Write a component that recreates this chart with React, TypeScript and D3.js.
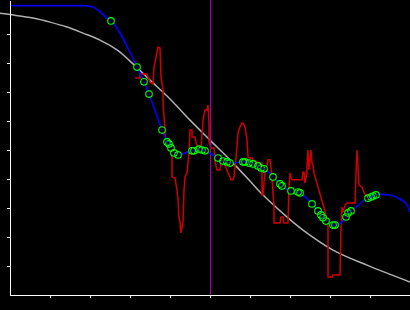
import React from "react";
import * as d3 from "d3";

// x ticks / y ticks (unlabelled)
const xTicks = [1, 2, 3, 4, 5, 6, 7, 8, 9];
const yTicks = [1, 2, 3, 4, 5, 6, 7, 8, 9];
const markerX = 5;

// smooth reference curve (gray)
const refX = [-0.25, 0, 0.575, 1, 1.425, 1.825, 2.25, 2.675, 3.075, 3.5, 4, 4.5, 5, 5.5, 6, 6.25, 6.95, 7.325, 8.075, 8.925, 10];
const refY = [9.72, 9.67, 9.55, 9.41, 9.24, 9.03, 8.79, 8.45, 7.97, 7.41, 6.76, 6.03, 5.34, 4.66, 3.93, 3.55, 2.66, 2.24, 1.55, 1.03, 0.45];

// sampled points (green circles)
const ptX = [2.525, 3.175, 3.35, 3.475, 3.8, 3.925, 3.975, 4.025, 4.1, 4.2, 4.55, 4.6, 4.725, 4.8, 4.875, 5.2, 5.325, 5.425, 5.5, 5.825, 5.875, 5.975, 6.075, 6.2, 6.275, 6.35, 6.575, 6.75, 6.8, 7.025, 7.2, 7.25, 7.55, 7.7, 7.775, 7.825, 7.9, 8.075, 8.125, 8.4, 8.45, 8.525, 8.95, 9.025, 9.075, 9.15];
const ptY = [9.45, 7.86, 7.35, 6.93, 5.69, 5.28, 5.21, 5.07, 4.9, 4.83, 4.97, 4.97, 5.03, 5.0, 4.97, 4.72, 4.62, 4.59, 4.55, 4.59, 4.59, 4.55, 4.52, 4.45, 4.38, 4.35, 4.07, 3.83, 3.76, 3.59, 3.55, 3.52, 3.14, 2.9, 2.76, 2.66, 2.55, 2.41, 2.41, 2.69, 2.83, 2.9, 3.34, 3.38, 3.41, 3.45];

// fit curve (blue) lead-in and tail
const fitLeadX = [0, 1.8, 2.075, 2.25, 2.425];
const fitLeadY = [9.98, 9.98, 9.93, 9.76, 9.55];
const fitTailX = [9.175, 9.5, 9.75, 9.925, 10];
const fitTailY = [3.48, 3.45, 3.31, 3.1, 2.86];

// raw signal (red)
const rawPath: [number, number][] = [
  [3.125, 7.48], [3.25, 7.48], [3.25, 7.62], [3.425, 7.62], [3.5, 7.34], [3.575, 7.28], [3.6, 7.86], [3.675, 8.38],
  [3.7, 8.55], [3.75, 8.52], [3.775, 7.52], [3.825, 7.07], [3.825, 6.62], [3.875, 5.69], [3.875, 5.24], [3.925, 5.17],
  [4.0, 5.0], [4.05, 4.76], [4.05, 4.07], [4.125, 4.03], [4.175, 3.62], [4.2, 3.28], [4.225, 2.69], [4.25, 2.48],
  [4.275, 2.14], [4.325, 2.52], [4.35, 3.62], [4.375, 4.07], [4.425, 4.21], [4.475, 4.9], [4.5, 5.69], [4.55, 5.69],
  [4.55, 5.45], [4.625, 5.45], [4.65, 5.24], [4.7, 5.07], [4.775, 5.07], [4.8, 5.52], [4.825, 6.03], [4.875, 6.38],
  [4.925, 6.38], [4.95, 6.55], [4.975, 5.93], [4.975, 5.28], [5.025, 5.07], [5.1, 5.07], [5.125, 4.59], [5.175, 4.31],
  [5.25, 4.31], [5.275, 4.59], [5.35, 4.59], [5.375, 4.48], [5.45, 4.21], [5.5, 4.07], [5.525, 3.97], [5.575, 3.97],
  [5.6, 4.07], [5.625, 4.41], [5.675, 5.1], [5.7, 5.59], [5.75, 5.79], [5.8, 5.93], [5.825, 5.93], [5.875, 5.79],
  [5.925, 5.34], [5.95, 4.76], [5.975, 4.72], [6.05, 4.72], [6.075, 4.66], [6.175, 4.59], [6.25, 4.55], [6.3, 4.55],
  [6.3, 3.45], [6.325, 3.45], [6.35, 3.86], [6.375, 4.21], [6.425, 4.48], [6.45, 4.66], [6.5, 4.66], [6.55, 4.07],
  [6.575, 3.52], [6.6, 3.1], [6.6, 2.48], [6.75, 2.48], [6.775, 2.69], [6.825, 2.69], [6.85, 2.48], [6.95, 2.48],
  [6.975, 3.72], [7.0, 4.21], [7.025, 4.07], [7.05, 3.97], [7.3, 3.97], [7.325, 4.24], [7.35, 4.24], [7.375, 3.86],
  [7.425, 4.21], [7.425, 4.48], [7.45, 5.0], [7.475, 4.31], [7.5, 4.66], [7.525, 5.0], [7.55, 4.55], [7.575, 4.48],
  [7.6, 4.21], [7.9, 2.76], [7.95, 2.41], [7.95, 0.62], [8.05, 0.62], [8.075, 0.69], [8.25, 0.69], [8.275, 2.34],
  [8.3, 3.03], [8.325, 2.86], [8.375, 3.1], [8.425, 3.17], [8.625, 3.17], [8.65, 4.21], [8.675, 5.0], [8.7, 4.38],
  [8.725, 3.79], [8.8, 3.72], [8.875, 3.45], [8.95, 3.34],
];

const W = 410;
const H = 310;

export default function App() {
  const x = d3.scaleLinear().domain([0, 10]).range([10, 410]);
  const y = d3.scaleLinear().domain([0, 295 / 29]).range([295, 0]);

  const line = d3.line<[number, number]>().x((d) => x(d[0])).y((d) => y(d[1]));
  const refPts: [number, number][] = refX.map((v, i) => [v, refY[i]]);
  const pts: [number, number][] = ptX.map((v, i) => [v, ptY[i]]);
  const fitPts: [number, number][] = [
    ...fitLeadX.map((v, i) => [v, fitLeadY[i]] as [number, number]),
    ...pts,
    ...fitTailX.map((v, i) => [v, fitTailY[i]] as [number, number]),
  ];

  const refD = d3.line<[number, number]>().x((d) => x(d[0])).y((d) => y(d[1])).curve(d3.curveCatmullRom)(refPts) || "";
  const fitD = d3.line<[number, number]>().x((d) => x(d[0])).y((d) => y(d[1])).curve(d3.curveMonotoneX)(fitPts) || "";
  const rawD = line(rawPath) || "";

  const xAxisRef = React.useRef<SVGGElement>(null);
  const yAxisRef = React.useRef<SVGGElement>(null);
  React.useEffect(() => {
    if (xAxisRef.current) {
      const g = d3.select(xAxisRef.current);
      g.call(d3.axisBottom(x).tickValues(xTicks).tickSize(3).tickSizeOuter(0).tickFormat(() => ""));
      g.selectAll("path, line").attr("stroke", "#fff").attr("shape-rendering", "crispEdges");
    }
    if (yAxisRef.current) {
      const g = d3.select(yAxisRef.current);
      g.call(d3.axisLeft(y).tickValues(yTicks).tickSize(3).tickSizeOuter(0).tickFormat(() => ""));
      g.selectAll("path, line").attr("stroke", "#fff").attr("shape-rendering", "crispEdges");
    }
  }, []);

  return (
    <svg width={W} height={H} style={{ position: "fixed", left: 0, top: 0, display: "block" }}>
      <rect x={0} y={0} width={W} height={H} fill="#000" />
      <path d={refD} fill="none" stroke="#b0b0b0" strokeWidth={1.5} />
      <path d={rawD} fill="none" stroke="#d00000" strokeWidth={1.5} />
      <line x1={x(markerX) + 0.5} x2={x(markerX) + 0.5} y1={0} y2={y(0)} stroke="#a000a8" strokeWidth={1} shapeRendering="crispEdges" />
      <path d={fitD} fill="none" stroke="#0000ff" strokeWidth={1.6} />
      {pts.map((p, i) => (
        <circle key={"f" + i} cx={x(p[0])} cy={y(p[1])} r={3.3} fill="#000" />
      ))}
      {pts.map((p, i) => (
        <circle key={"s" + i} cx={x(p[0])} cy={y(p[1])} r={3.3} fill="none" stroke="#00ff00" strokeWidth={1.1} />
      ))}
      {pts.map((p, i) => (
        <circle key={"c" + i} cx={x(p[0])} cy={y(p[1])} r={0.8} fill="#0000ff" />
      ))}
      <g ref={xAxisRef} transform={`translate(0,${y(0)})`} />
      <g ref={yAxisRef} transform={`translate(${x(0)},0)`} />
    </svg>
  );
}
